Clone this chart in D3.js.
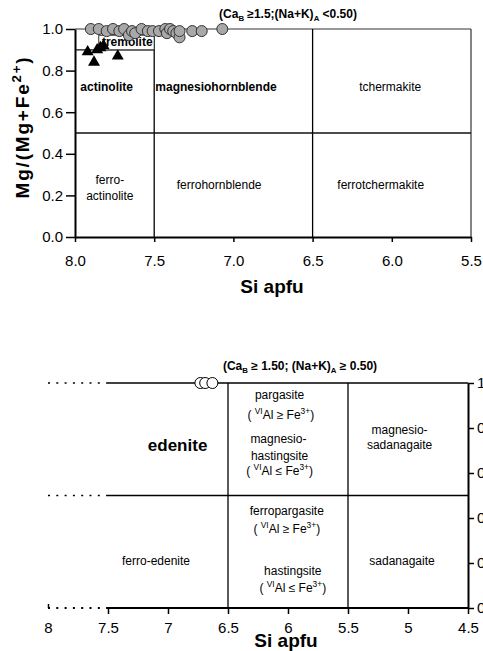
<!DOCTYPE html>
<html lang="en">
<head>
<meta charset="UTF-8">
<title>Amphibole classification</title>
<style>
  body { margin: 0; background: #fff; }
  text { font-family: "Liberation Sans", Arial, sans-serif; fill: #000; }
</style>
</head>
<body>
<svg id="chart" width="483" height="651"></svg>
<script src="https://d3js.org/d3.v7.min.js"></script>
<script>
// ---- data ----
// upper diagram: CaB >= 1.5, (Na+K)A < 0.50
const topCircleSi = [7.90, 7.85, 7.80, 7.76, 7.72, 7.69, 7.66, 7.64, 7.62, 7.58, 7.54, 7.51, 7.47, 7.43, 7.42, 7.40, 7.38, 7.36, 7.34, 7.34, 7.26, 7.20, 7.07];
const topCircleMg = [1.00, 1.00, 0.99, 1.00, 0.99, 1.00, 0.97, 0.99, 0.98, 1.00, 0.99, 0.99, 0.99, 1.00, 0.98, 1.00, 0.99, 0.98, 0.96, 0.99, 0.99, 0.99, 1.00];
const topTriSi = [7.92, 7.88, 7.86, 7.84, 7.82, 7.73];
const topTriMg = [0.89, 0.84, 0.90, 0.91, 0.92, 0.87];
const topXTicks = [8.0, 7.5, 7.0, 6.5, 6.0, 5.5];
const topYTicks = [0.0, 0.2, 0.4, 0.6, 0.8, 1.0];
const topVLines = [7.5, 6.5];      // field boundaries (Si)
const topHLine = 0.5;
const tremoliteLine = 0.9;         // from Si 8.0 to 7.5

// lower diagram: CaB >= 1.50, (Na+K)A >= 0.50
const botCircleSi = [6.73, 6.69, 6.63];
const botCircleMg = [1.00, 1.00, 1.00];
const botXTicks = [8, 7.5, 7, 6.5, 6, 5.5, 5, 4.5];
const botYTicks = [0, 0.2, 0.4, 0.6, 0.8, 1];
const botVLines = [6.5, 5.5];
const botHLines = [1, 0.5];
const dottedFrom = 8, dottedTo = 7.5;

// field names: [Si, ratio, text, bold]
const topLabels = [
  [7.67, 0.918, "tremolite", true],
  [7.80, 0.70, "actinolite", true],
  [7.11, 0.70, "magnesiohornblende", true],
  [6.01, 0.70, "tchermakite", false],
  [7.78, 0.255, "ferro-", false],
  [7.78, 0.178, "actinolite", false],
  [7.09, 0.23, "ferrohornblende", false],
  [6.07, 0.23, "ferrotchermakite", false]
];
const botLabels = [
  [6.92, 0.70, "edenite", true],
  [7.10, 0.19, "ferro-edenite", false],
  [6.07, 0.93, "pargasite", false],
  [6.06, 0.84, "( ^VI^Al \u2265 Fe^3+^)", false],
  [6.08, 0.733, "magnesio-", false],
  [6.07, 0.658, "hastingsite", false],
  [6.07, 0.59, "( ^VI^Al \u2264 Fe^3+^)", false],
  [5.07, 0.773, "magnesio-", false],
  [5.07, 0.707, "sadanagaite", false],
  [6.01, 0.413, "ferropargasite", false],
  [6.01, 0.333, "( ^VI^Al \u2265 Fe^3+^)", false],
  [5.96, 0.147, "hastingsite", false],
  [5.96, 0.071, "( ^VI^Al \u2264 Fe^3+^)", false],
  [5.05, 0.19, "sadanagaite", false]
];
const topTitle = "(Ca_B_ \u22651.5;(Na+K)_A_ <0.50)";
const botTitle = "(Ca_B_ \u2265 1.50; (Na+K)_A_ \u2265 0.50)";

// ---- helpers ----
// text with ^sup^ and _sub_ parts
function rich(sel, str, size) {
  const parts = str.split(/(\^[^\^]*\^|_[^_]*_)/).filter(s => s.length);
  let prev = 0;
  parts.forEach(p => {
    let dy = 0, fs = size, txt = p;
    if (p[0] === '^') { txt = p.slice(1, -1); fs = size * 0.7; dy = -size * 0.42; }
    else if (p[0] === '_') { txt = p.slice(1, -1); fs = size * 0.65; dy = size * 0.22; }
    sel.append('tspan').attr('font-size', fs).attr('dy', dy - prev).text(txt);
    prev = dy;
  });
  return sel;
}

const svg = d3.select('#chart');

// ================= upper diagram =================
const x1 = d3.scaleLinear().domain([8, 5.5]).range([75, 471]);
const y1 = d3.scaleLinear().domain([0, 1]).range([237, 29]);
const g1 = svg.append('g');

// frame top + right
g1.append('line').attr('x1', x1(8)).attr('x2', x1(5.5)).attr('y1', y1(1)).attr('y2', y1(1))
  .attr('stroke', '#333').attr('stroke-width', 1.2);
g1.append('line').attr('x1', x1(5.5)).attr('x2', x1(5.5)).attr('y1', y1(0)).attr('y2', y1(1))
  .attr('stroke', '#333').attr('stroke-width', 1.2);

// boundaries
g1.selectAll('.vl').data(topVLines).enter().append('line')
  .attr('x1', d => x1(d)).attr('x2', d => x1(d)).attr('y1', y1(0)).attr('y2', y1(1))
  .attr('stroke', '#000').attr('stroke-width', 1.3);
g1.append('line').attr('x1', x1(8)).attr('x2', x1(5.5)).attr('y1', y1(topHLine)).attr('y2', y1(topHLine))
  .attr('stroke', '#111').attr('stroke-width', 1.3);
g1.append('line').attr('x1', x1(8)).attr('x2', x1(7.5)).attr('y1', y1(tremoliteLine)).attr('y2', y1(tremoliteLine))
  .attr('stroke', '#111').attr('stroke-width', 1.3);

// axes
const ax1 = g1.append('g').attr('transform', `translate(0,${y1(0)})`)
  .call(d3.axisBottom(x1).tickValues(topXTicks).tickFormat(d3.format('.1f')).tickSize(5).tickSizeOuter(0).tickPadding(13));
const ay1 = g1.append('g').attr('transform', `translate(${x1(8)},0)`)
  .call(d3.axisLeft(y1).tickValues(topYTicks).tickFormat(d3.format('.1f')).tickSize(9).tickSizeOuter(0).tickPadding(3));
[ax1, ay1].forEach(a => {
  a.select('.domain').attr('stroke', '#000').attr('stroke-width', 2);
  a.selectAll('.tick line').attr('stroke', '#000').attr('stroke-width', 1.5);
  a.selectAll('.tick text').attr('font-size', 15).attr('font-family', '"Liberation Sans", Arial, sans-serif').attr('fill', '#000');
});

// labels
topLabels.forEach(([si, v, t, b]) => {
  if (t === 'tremolite') {
    g1.append('rect').attr('x', x1(7.85)).attr('y', y1(0.97)).attr('width', x1(7.5) - x1(7.85))
      .attr('height', y1(tremoliteLine) - y1(0.97)).attr('fill', '#fff').attr('stroke', '#333').attr('stroke-width', 1);
  }
  rich(g1.append('text').attr('x', x1(si)).attr('y', y1(v)).attr('text-anchor', 'middle')
    .attr('font-weight', b ? 'bold' : 'normal'), t, 12);
});

// points
g1.selectAll('.tri').data(topTriSi).enter().append('path')
  .attr('d', d3.symbol().type(d3.symbolTriangle).size(62))
  .attr('transform', (d, i) => `translate(${x1(d)},${y1(topTriMg[i])})`)
  .attr('fill', '#000');
g1.selectAll('.circ').data(topCircleSi).enter().append('circle')
  .attr('cx', d => x1(d)).attr('cy', (d, i) => y1(topCircleMg[i])).attr('r', 5.5)
  .attr('fill', '#a8a8a8').attr('stroke', '#333').attr('stroke-width', 1);

// titles
rich(g1.append('text').attr('x', 288).attr('y', 18).attr('text-anchor', 'middle').attr('font-weight', 'bold'), topTitle, 12);
rich(g1.append('text').attr('transform', 'translate(29,127) rotate(-90)').attr('text-anchor', 'middle')
  .attr('font-weight', 'bold').attr('letter-spacing', 1.8), 'Mg/(Mg+Fe^2+^)', 19);
g1.append('text').attr('x', 272).attr('y', 293).attr('text-anchor', 'middle')
  .attr('font-weight', 'bold').attr('font-size', 19).text('Si apfu');

// ================= lower diagram =================
const x2 = d3.scaleLinear().domain([8, 4.5]).range([48, 468]);
const y2 = d3.scaleLinear().domain([0, 1]).range([608, 383]);
const g2 = svg.append('g');

// horizontal lines, dotted part then solid part
botHLines.concat([0]).forEach(v => {
  g2.append('line').attr('x1', x2(dottedFrom)).attr('x2', x2(dottedTo)).attr('y1', y2(v)).attr('y2', y2(v))
    .attr('stroke', '#000').attr('stroke-width', v === 0 ? 2 : 1.5).attr('stroke-dasharray', '2,6.3');
  g2.append('line').attr('x1', x2(dottedTo)).attr('x2', x2(4.5)).attr('y1', y2(v)).attr('y2', y2(v))
    .attr('stroke', '#000').attr('stroke-width', v === 0 ? 2 : 1.5);
});
g2.selectAll('.vl').data(botVLines).enter().append('line')
  .attr('x1', d => x2(d)).attr('x2', d => x2(d)).attr('y1', y2(0)).attr('y2', y2(1))
  .attr('stroke', '#000').attr('stroke-width', 1.3);

const ax2 = g2.append('g').attr('transform', `translate(0,${y2(0)})`)
  .call(d3.axisBottom(x2).tickValues(botXTicks).tickFormat(d3.format('')).tickSize(6).tickSizeOuter(0).tickPadding(8));
const ay2 = g2.append('g').attr('transform', `translate(${x2(4.5)},0)`)
  .call(d3.axisRight(y2).tickValues(botYTicks).tickFormat(d3.format('')).tickSize(6).tickSizeOuter(0).tickPadding(3));
ax2.select('.domain').remove();
ay2.select('.domain').attr('stroke', '#000').attr('stroke-width', 2);
[ax2, ay2].forEach(a => {
  a.selectAll('.tick line').attr('stroke', '#000').attr('stroke-width', 1.5);
  a.selectAll('.tick text').attr('font-size', 15).attr('font-family', '"Liberation Sans", Arial, sans-serif').attr('fill', '#000');
});
// first tick at Si 8 points up, as in the source
ax2.selectAll('.tick').filter(d => d === 8).select('line').attr('y2', -4);

botLabels.forEach(([si, v, t, b]) => {
  rich(g2.append('text').attr('x', x2(si)).attr('y', y2(v)).attr('text-anchor', 'middle')
    .attr('font-weight', b ? 'bold' : 'normal'), t, b ? 17 : 12);
});

g2.selectAll('.circ').data(botCircleSi).enter().append('circle')
  .attr('cx', d => x2(d)).attr('cy', (d, i) => y2(botCircleMg[i])).attr('r', 5.5)
  .attr('fill', '#fff').attr('stroke', '#000').attr('stroke-width', 1);

rich(g2.append('text').attr('x', 300).attr('y', 370).attr('text-anchor', 'middle').attr('font-weight', 'bold'), botTitle, 12);
g2.append('text').attr('x', 286).attr('y', 647).attr('text-anchor', 'middle')
  .attr('font-weight', 'bold').attr('font-size', 19).text('Si apfu');
</script>
</body>
</html>
